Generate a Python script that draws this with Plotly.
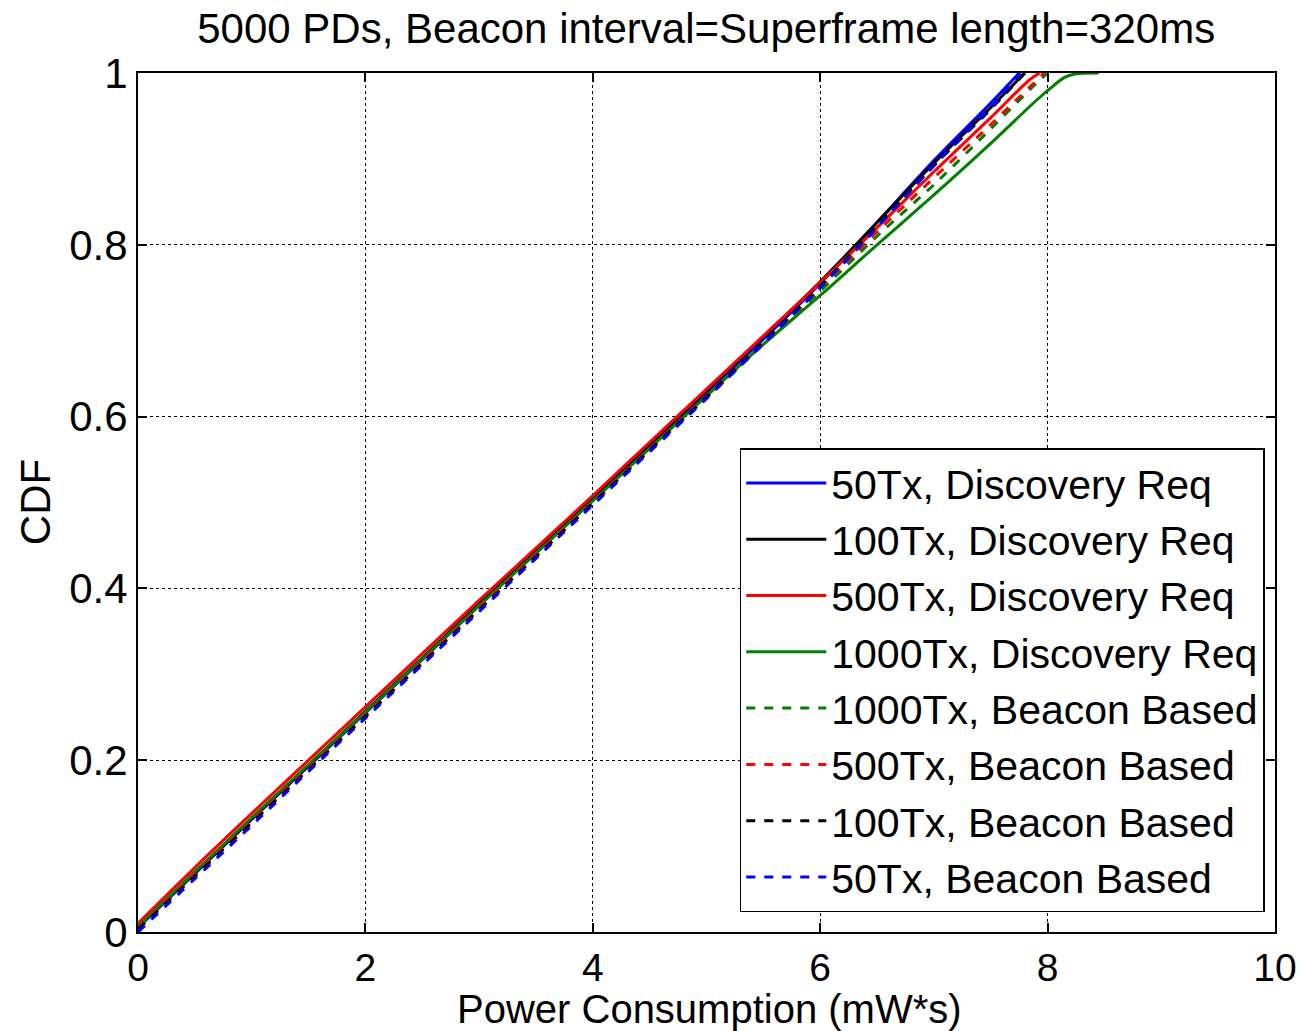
import plotly.graph_objects as go

names = ["50Tx, Discovery Req", "100Tx, Discovery Req", "500Tx, Discovery Req",
         "1000Tx, Discovery Req", "1000Tx, Beacon Based", "500Tx, Beacon Based",
         "100Tx, Beacon Based", "50Tx, Beacon Based"]
colors = ["#0000ff", "#000000", "#ff0000", "#008000", "#008000", "#ff0000", "#000000", "#0000ff"]
dashes = ["solid", "solid", "solid", "solid", "dash", "dash", "dash", "dash"]

xb = [0, 0.5, 1, 1.5, 2, 2.5, 3, 3.5, 4, 4.5, 5, 5.5, 6, 6.5, 7, 7.5]

x_50dr = xb + [7.75]
y_50dr = [0.005, 0.068, 0.131, 0.193, 0.255, 0.317, 0.380, 0.441, 0.503, 0.566, 0.628, 0.690, 0.755, 0.826, 0.898, 0.965, 1.0]
x_100dr = xb + [7.8]
y_100dr = [0.006, 0.069, 0.132, 0.194, 0.257, 0.319, 0.382, 0.443, 0.505, 0.568, 0.630, 0.693, 0.757, 0.826, 0.895, 0.960, 1.0]
x_500dr = xb + [7.85, 7.93]
y_500dr = [0.010, 0.075, 0.138, 0.200, 0.262, 0.324, 0.386, 0.447, 0.508, 0.570, 0.632, 0.694, 0.756, 0.820, 0.885, 0.948, 0.993, 1.0]
x_1000dr = xb + [7.9, 8.05, 8.15, 8.25, 8.45]
y_1000dr = [0.006, 0.070, 0.133, 0.195, 0.256, 0.318, 0.380, 0.441, 0.502, 0.563, 0.624, 0.684, 0.741, 0.800, 0.858, 0.918, 0.968, 0.985, 0.995, 0.999, 1.0]
x_1000bb = xb + [7.9, 8.0]
y_1000bb = [0.004, 0.066, 0.128, 0.190, 0.251, 0.313, 0.376, 0.437, 0.499, 0.561, 0.622, 0.684, 0.746, 0.810, 0.870, 0.935, 0.988, 1.0]
x_500bb = xb + [7.97]
y_500bb = [0.004, 0.067, 0.129, 0.191, 0.252, 0.315, 0.377, 0.439, 0.500, 0.562, 0.624, 0.686, 0.750, 0.815, 0.878, 0.940, 1.0]
x_100bb = xb + [7.8]
y_100bb = [0.003, 0.065, 0.127, 0.189, 0.251, 0.313, 0.375, 0.437, 0.499, 0.561, 0.623, 0.687, 0.752, 0.822, 0.892, 0.958, 1.0]
x_50bb = xb + [7.76]
y_50bb = [0.0, 0.062, 0.124, 0.187, 0.249, 0.311, 0.373, 0.435, 0.497, 0.559, 0.621, 0.685, 0.750, 0.820, 0.892, 0.960, 1.0]

xs = [x_50dr, x_100dr, x_500dr, x_1000dr, x_1000bb, x_500bb, x_100bb, x_50bb]
ys = [y_50dr, y_100dr, y_500dr, y_1000dr, y_1000bb, y_500bb, y_100bb, y_50bb]

x_ticks = [0, 2, 4, 6, 8, 10]
y_ticks = [0, 0.2, 0.4, 0.6, 0.8, 1]

fig = go.Figure()
for i in range(8):
    fig.add_trace(go.Scatter(x=xs[i], y=ys[i], mode="lines", name=names[i],
                             legendgroup=str(i), line_shape="spline",
                             line=dict(color=colors[i], width=3, dash=dashes[i])))

font = "Liberation Sans, Arial, sans-serif"
FS = 42
axis_common = dict(showline=True, linecolor="black", linewidth=2, mirror="ticks",
                   ticks="inside", ticklen=9, tickwidth=1.5, tickcolor="black",
                   showgrid=True, gridcolor="black", griddash="dot", gridwidth=1,
                   zeroline=False, automargin=False)
fig.update_layout(
    width=1303, height=1031,
    margin=dict(l=138, r=28, t=73, b=99),
    paper_bgcolor="white", plot_bgcolor="white",
    font=dict(family=font, color="black"),
    title=dict(text="5000 PDs, Beacon interval=Superframe length=320ms",
               x=0.542, xanchor="center", y=0.973, yanchor="middle",
               font=dict(size=FS, color="black", family=font)),
    xaxis=dict(range=[0, 10], tickvals=x_ticks, ticktext=[str(v) for v in x_ticks],
               title=dict(text=""),
               tickfont=dict(size=39, color="black", family=font), **axis_common),
    yaxis=dict(range=[0, 1], tickvals=y_ticks, ticktext=["0", "0.2", "0.4", "0.6", "0.8", "1"],
               title=dict(text=""),
               tickfont=dict(size=FS, color="black", family=font), **axis_common),
    annotations=[
        dict(text="Power Consumption (mW*s)", xref="paper", yref="paper",
             x=0.503, y=-0.1175, xanchor="center", yanchor="bottom", showarrow=False,
             font=dict(size=40, color="black", family=font)),
        dict(text="CDF", xref="paper", yref="paper", textangle=-90,
             x=-0.09, y=0.5, xanchor="center", yanchor="middle", showarrow=False,
             font=dict(size=FS, color="black", family=font)),
    ],
    legend=dict(x=0.991, y=0.023, xanchor="right", yanchor="bottom",
                bgcolor="white", bordercolor="black", borderwidth=1.5,
                font=dict(size=41, color="black", family=font),
                tracegroupgap=0, itemwidth=80),
    showlegend=True,
)
fig.write_html("out.html")
